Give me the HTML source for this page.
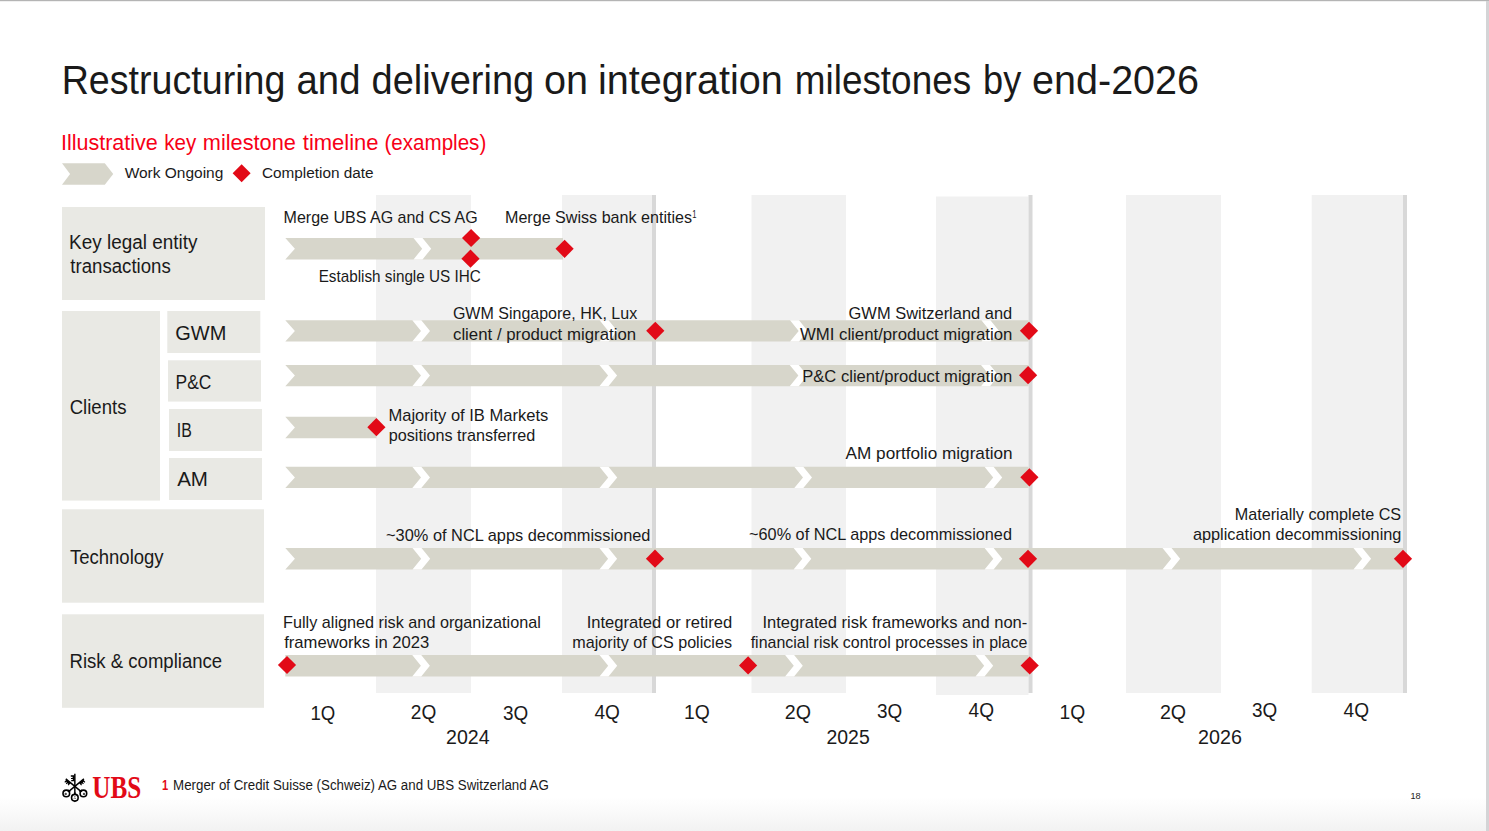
<!DOCTYPE html>
<html><head><meta charset="utf-8"><title>UBS integration milestones</title>
<style>
html,body{margin:0;padding:0;background:#fff;}
body{width:1489px;height:831px;overflow:hidden;}
svg{display:block;}
</style></head>
<body>
<svg width="1489" height="831" viewBox="0 0 1489 831">
<defs><linearGradient id="bg" x1="0" y1="0" x2="0" y2="1"><stop offset="0" stop-color="#ffffff"/><stop offset="0.5" stop-color="#f9f9f9"/><stop offset="1" stop-color="#f2f2f2"/></linearGradient></defs>
<rect x="0" y="0" width="1489" height="831" fill="#ffffff"/>
<rect x="0" y="797" width="1489" height="34" fill="url(#bg)"/>
<rect x="0" y="0" width="1489" height="1.2" fill="#b4b4b4"/>
<rect x="1486" y="1" width="3" height="831" fill="#d4d4d6"/>
<text x="61.71" y="94.10" font-size="40.5" fill="#1a1a1a" font-weight="normal" style="font-family:&quot;Liberation Sans&quot;,sans-serif" textLength="223.71" lengthAdjust="spacingAndGlyphs">Restructuring</text>
<text x="296.57" y="94.10" font-size="40.5" fill="#1a1a1a" font-weight="normal" style="font-family:&quot;Liberation Sans&quot;,sans-serif" textLength="63.89" lengthAdjust="spacingAndGlyphs">and</text>
<text x="371.61" y="94.10" font-size="40.5" fill="#1a1a1a" font-weight="normal" style="font-family:&quot;Liberation Sans&quot;,sans-serif" textLength="162.54" lengthAdjust="spacingAndGlyphs">delivering</text>
<text x="544.04" y="94.10" font-size="40.5" fill="#1a1a1a" font-weight="normal" style="font-family:&quot;Liberation Sans&quot;,sans-serif" textLength="44.03" lengthAdjust="spacingAndGlyphs">on</text>
<text x="598.05" y="94.10" font-size="40.5" fill="#1a1a1a" font-weight="normal" style="font-family:&quot;Liberation Sans&quot;,sans-serif" textLength="184.82" lengthAdjust="spacingAndGlyphs">integration</text>
<text x="794.75" y="94.10" font-size="40.5" fill="#1a1a1a" font-weight="normal" style="font-family:&quot;Liberation Sans&quot;,sans-serif" textLength="176.38" lengthAdjust="spacingAndGlyphs">milestones</text>
<text x="983.07" y="94.10" font-size="40.5" fill="#1a1a1a" font-weight="normal" style="font-family:&quot;Liberation Sans&quot;,sans-serif" textLength="38.20" lengthAdjust="spacingAndGlyphs">by</text>
<text x="1032.12" y="94.10" font-size="40.5" fill="#1a1a1a" font-weight="normal" style="font-family:&quot;Liberation Sans&quot;,sans-serif" textLength="166.91" lengthAdjust="spacingAndGlyphs">end-2026</text>
<text x="60.91" y="150.00" font-size="22.3" fill="#f70016" font-weight="normal" style="font-family:&quot;Liberation Sans&quot;,sans-serif" textLength="96.84" lengthAdjust="spacingAndGlyphs">Illustrative</text>
<text x="164.22" y="150.00" font-size="22.3" fill="#f70016" font-weight="normal" style="font-family:&quot;Liberation Sans&quot;,sans-serif" textLength="31.92" lengthAdjust="spacingAndGlyphs">key</text>
<text x="202.86" y="150.00" font-size="22.3" fill="#f70016" font-weight="normal" style="font-family:&quot;Liberation Sans&quot;,sans-serif" textLength="93.01" lengthAdjust="spacingAndGlyphs">milestone</text>
<text x="302.77" y="150.00" font-size="22.3" fill="#f70016" font-weight="normal" style="font-family:&quot;Liberation Sans&quot;,sans-serif" textLength="75.81" lengthAdjust="spacingAndGlyphs">timeline</text>
<text x="384.52" y="150.00" font-size="22.3" fill="#f70016" font-weight="normal" style="font-family:&quot;Liberation Sans&quot;,sans-serif" textLength="101.75" lengthAdjust="spacingAndGlyphs">(examples)</text>
<polygon points="62.00,163.20 104.80,163.20 113.20,173.95 104.80,184.70 62.00,184.70 70.10,173.95" fill="#d7d6cb"/>
<text x="124.63" y="177.90" font-size="15.5" fill="#1a1a1a" font-weight="normal" style="font-family:&quot;Liberation Sans&quot;,sans-serif" textLength="98.67" lengthAdjust="spacingAndGlyphs">Work Ongoing</text>
<polygon points="241.60,164.20 250.60,173.20 241.60,182.20 232.60,173.20" fill="#e20a17"/>
<text x="261.92" y="177.90" font-size="15.5" fill="#1a1a1a" font-weight="normal" style="font-family:&quot;Liberation Sans&quot;,sans-serif" textLength="111.66" lengthAdjust="spacingAndGlyphs">Completion date</text>
<rect x="376" y="195" width="95" height="498" fill="#f1f1f1"/>
<rect x="562" y="195" width="90" height="498" fill="#f1f1f1"/>
<rect x="751.5" y="195" width="94.5" height="498" fill="#f1f1f1"/>
<rect x="1126" y="195" width="95" height="498" fill="#f1f1f1"/>
<rect x="1311.7" y="195" width="91.29999999999995" height="498" fill="#f1f1f1"/>
<rect x="936" y="196.5" width="92.5" height="498.5" fill="#f1f1f1"/>
<rect x="652" y="195" width="4" height="498" fill="#d8d8d8"/>
<rect x="1028.5" y="195" width="4" height="498" fill="#d8d8d8"/>
<rect x="1403" y="195" width="4" height="498" fill="#d8d8d8"/>
<rect x="62" y="207" width="203" height="93" fill="#e9e9e4"/>
<rect x="62" y="311" width="98" height="189.6" fill="#e9e9e4"/>
<rect x="167.3" y="311" width="93" height="42" fill="#e9e9e4"/>
<rect x="168" y="360.3" width="93" height="41.3" fill="#e9e9e4"/>
<rect x="169" y="409" width="93" height="42" fill="#e9e9e4"/>
<rect x="169" y="458" width="93" height="42" fill="#e9e9e4"/>
<rect x="62" y="509.3" width="202" height="93.4" fill="#e9e9e4"/>
<rect x="62" y="614.3" width="202" height="93.5" fill="#e9e9e4"/>
<text x="69.05" y="248.90" font-size="20" fill="#1a1a1a" font-weight="normal" style="font-family:&quot;Liberation Sans&quot;,sans-serif" textLength="128.39" lengthAdjust="spacingAndGlyphs">Key legal entity</text>
<text x="70.32" y="272.80" font-size="20" fill="#1a1a1a" font-weight="normal" style="font-family:&quot;Liberation Sans&quot;,sans-serif" textLength="100.46" lengthAdjust="spacingAndGlyphs">transactions</text>
<text x="175.30" y="340.20" font-size="20" fill="#1a1a1a" font-weight="normal" style="font-family:&quot;Liberation Sans&quot;,sans-serif" textLength="51.04" lengthAdjust="spacingAndGlyphs">GWM</text>
<text x="175.57" y="389.20" font-size="20" fill="#1a1a1a" font-weight="normal" style="font-family:&quot;Liberation Sans&quot;,sans-serif" textLength="35.79" lengthAdjust="spacingAndGlyphs">P&amp;C</text>
<text x="176.84" y="437.10" font-size="20" fill="#1a1a1a" font-weight="normal" style="font-family:&quot;Liberation Sans&quot;,sans-serif" textLength="15.00" lengthAdjust="spacingAndGlyphs">IB</text>
<text x="177.16" y="486.10" font-size="20" fill="#1a1a1a" font-weight="normal" style="font-family:&quot;Liberation Sans&quot;,sans-serif" textLength="30.83" lengthAdjust="spacingAndGlyphs">AM</text>
<text x="69.66" y="414.30" font-size="20" fill="#1a1a1a" font-weight="normal" style="font-family:&quot;Liberation Sans&quot;,sans-serif" textLength="56.82" lengthAdjust="spacingAndGlyphs">Clients</text>
<text x="69.88" y="564.00" font-size="20" fill="#1a1a1a" font-weight="normal" style="font-family:&quot;Liberation Sans&quot;,sans-serif" textLength="93.75" lengthAdjust="spacingAndGlyphs">Technology</text>
<text x="69.58" y="668.10" font-size="20" fill="#1a1a1a" font-weight="normal" style="font-family:&quot;Liberation Sans&quot;,sans-serif" textLength="152.55" lengthAdjust="spacingAndGlyphs">Risk &amp; compliance</text>
<polygon points="285.30,238.00 563.00,238.00 563.00,259.40 285.30,259.40 294.90,248.70" fill="#d7d6cb"/>
<polygon points="413.50,238.00 422.50,238.00 431.20,248.70 422.50,259.40 413.50,259.40 422.20,248.70" fill="#ffffff"/>
<polygon points="285.30,320.20 1028.50,320.20 1028.50,341.60 285.30,341.60 294.90,330.90" fill="#d7d6cb"/>
<polygon points="412.30,320.20 421.30,320.20 430.00,330.90 421.30,341.60 412.30,341.60 421.00,330.90" fill="#ffffff"/>
<polygon points="599.60,320.20 608.60,320.20 617.30,330.90 608.60,341.60 599.60,341.60 608.30,330.90" fill="#ffffff"/>
<polygon points="790.00,320.20 799.00,320.20 807.70,330.90 799.00,341.60 790.00,341.60 798.70,330.90" fill="#ffffff"/>
<polygon points="981.40,320.20 990.40,320.20 999.10,330.90 990.40,341.60 981.40,341.60 990.10,330.90" fill="#ffffff"/>
<polygon points="285.30,364.90 1028.50,364.90 1028.50,386.30 285.30,386.30 294.90,375.60" fill="#d7d6cb"/>
<polygon points="412.30,364.90 421.30,364.90 430.00,375.60 421.30,386.30 412.30,386.30 421.00,375.60" fill="#ffffff"/>
<polygon points="599.40,364.90 608.40,364.90 617.10,375.60 608.40,386.30 599.40,386.30 608.10,375.60" fill="#ffffff"/>
<polygon points="789.70,364.90 798.70,364.90 807.40,375.60 798.70,386.30 789.70,386.30 798.40,375.60" fill="#ffffff"/>
<polygon points="981.00,364.90 990.00,364.90 998.70,375.60 990.00,386.30 981.00,386.30 989.70,375.60" fill="#ffffff"/>
<polygon points="285.30,416.80 376.40,416.80 376.40,438.20 285.30,438.20 294.90,427.50" fill="#d7d6cb"/>
<polygon points="285.30,466.70 1028.50,466.70 1028.50,488.10 285.30,488.10 294.90,477.40" fill="#d7d6cb"/>
<polygon points="412.30,466.70 421.30,466.70 430.00,477.40 421.30,488.10 412.30,488.10 421.00,477.40" fill="#ffffff"/>
<polygon points="599.50,466.70 608.50,466.70 617.20,477.40 608.50,488.10 599.50,488.10 608.20,477.40" fill="#ffffff"/>
<polygon points="794.30,466.70 803.30,466.70 812.00,477.40 803.30,488.10 794.30,488.10 803.00,477.40" fill="#ffffff"/>
<polygon points="984.50,466.70 993.50,466.70 1002.20,477.40 993.50,488.10 984.50,488.10 993.20,477.40" fill="#ffffff"/>
<polygon points="285.30,548.10 1403.00,548.10 1403.00,569.50 285.30,569.50 294.90,558.80" fill="#d7d6cb"/>
<polygon points="412.50,548.10 421.50,548.10 430.20,558.80 421.50,569.50 412.50,569.50 421.20,558.80" fill="#ffffff"/>
<polygon points="599.40,548.10 608.40,548.10 617.10,558.80 608.40,569.50 599.40,569.50 608.10,558.80" fill="#ffffff"/>
<polygon points="793.60,548.10 802.60,548.10 811.30,558.80 802.60,569.50 793.60,569.50 802.30,558.80" fill="#ffffff"/>
<polygon points="984.60,548.10 993.60,548.10 1002.30,558.80 993.60,569.50 984.60,569.50 993.30,558.80" fill="#ffffff"/>
<polygon points="1162.50,548.10 1171.50,548.10 1180.20,558.80 1171.50,569.50 1162.50,569.50 1171.20,558.80" fill="#ffffff"/>
<polygon points="1353.40,548.10 1362.40,548.10 1371.10,558.80 1362.40,569.50 1353.40,569.50 1362.10,558.80" fill="#ffffff"/>
<polygon points="285.30,655.00 1028.60,655.00 1028.60,676.40 285.30,676.40" fill="#d7d6cb"/>
<polygon points="412.20,655.00 421.20,655.00 429.90,665.70 421.20,676.40 412.20,676.40 420.90,665.70" fill="#ffffff"/>
<polygon points="599.50,655.00 608.50,655.00 617.20,665.70 608.50,676.40 599.50,676.40 608.20,665.70" fill="#ffffff"/>
<polygon points="785.10,655.00 794.10,655.00 802.80,665.70 794.10,676.40 785.10,676.40 793.80,665.70" fill="#ffffff"/>
<polygon points="975.50,655.00 984.50,655.00 993.20,665.70 984.50,676.40 975.50,676.40 984.20,665.70" fill="#ffffff"/>
<polygon points="471.10,228.90 480.20,238.00 471.10,247.10 462.00,238.00" fill="#e20a17"/>
<polygon points="470.50,249.60 479.60,258.70 470.50,267.80 461.40,258.70" fill="#e20a17"/>
<polygon points="564.60,239.70 573.70,248.80 564.60,257.90 555.50,248.80" fill="#e20a17"/>
<polygon points="655.30,321.70 664.40,330.80 655.30,339.90 646.20,330.80" fill="#e20a17"/>
<polygon points="1029.00,321.70 1038.10,330.80 1029.00,339.90 1019.90,330.80" fill="#e20a17"/>
<polygon points="1028.10,366.10 1037.20,375.20 1028.10,384.30 1019.00,375.20" fill="#e20a17"/>
<polygon points="376.40,418.10 385.50,427.20 376.40,436.30 367.30,427.20" fill="#e20a17"/>
<polygon points="1029.40,468.20 1038.50,477.30 1029.40,486.40 1020.30,477.30" fill="#e20a17"/>
<polygon points="655.00,549.60 664.10,558.70 655.00,567.80 645.90,558.70" fill="#e20a17"/>
<polygon points="1028.00,549.70 1037.10,558.80 1028.00,567.90 1018.90,558.80" fill="#e20a17"/>
<polygon points="1403.00,549.70 1412.10,558.80 1403.00,567.90 1393.90,558.80" fill="#e20a17"/>
<polygon points="287.00,655.90 296.10,665.00 287.00,674.10 277.90,665.00" fill="#e20a17"/>
<polygon points="748.10,656.30 757.20,665.40 748.10,674.50 739.00,665.40" fill="#e20a17"/>
<polygon points="1029.70,656.40 1038.80,665.50 1029.70,674.60 1020.60,665.50" fill="#e20a17"/>
<text x="283.59" y="223.00" font-size="17" fill="#1a1a1a" font-weight="normal" style="font-family:&quot;Liberation Sans&quot;,sans-serif" textLength="194.11" lengthAdjust="spacingAndGlyphs">Merge UBS AG and CS AG</text>
<text x="504.98" y="222.80" font-size="17" fill="#1a1a1a" font-weight="normal" style="font-family:&quot;Liberation Sans&quot;,sans-serif" textLength="187.10" lengthAdjust="spacingAndGlyphs">Merge Swiss bank entities</text>
<text x="692.32" y="217.90" font-size="11.3" fill="#1a1a1a" font-weight="normal" style="font-family:&quot;Liberation Sans&quot;,sans-serif" textLength="4.25" lengthAdjust="spacingAndGlyphs">1</text>
<text x="318.65" y="281.90" font-size="17" fill="#1a1a1a" font-weight="normal" style="font-family:&quot;Liberation Sans&quot;,sans-serif" textLength="162.13" lengthAdjust="spacingAndGlyphs">Establish single US IHC</text>
<text x="452.89" y="318.90" font-size="17" fill="#1a1a1a" font-weight="normal" style="font-family:&quot;Liberation Sans&quot;,sans-serif" textLength="184.28" lengthAdjust="spacingAndGlyphs">GWM Singapore, HK, Lux</text>
<text x="452.99" y="340.20" font-size="17" fill="#1a1a1a" font-weight="normal" style="font-family:&quot;Liberation Sans&quot;,sans-serif" textLength="183.11" lengthAdjust="spacingAndGlyphs">client / product migration</text>
<text x="848.57" y="318.60" font-size="17" fill="#1a1a1a" font-weight="normal" style="font-family:&quot;Liberation Sans&quot;,sans-serif" textLength="163.69" lengthAdjust="spacingAndGlyphs">GWM Switzerland and</text>
<text x="799.93" y="340.00" font-size="17" fill="#1a1a1a" font-weight="normal" style="font-family:&quot;Liberation Sans&quot;,sans-serif" textLength="212.36" lengthAdjust="spacingAndGlyphs">WMI client/product migration</text>
<text x="802.24" y="382.00" font-size="17" fill="#1a1a1a" font-weight="normal" style="font-family:&quot;Liberation Sans&quot;,sans-serif" textLength="210.04" lengthAdjust="spacingAndGlyphs">P&amp;C client/product migration</text>
<text x="388.44" y="420.70" font-size="17" fill="#1a1a1a" font-weight="normal" style="font-family:&quot;Liberation Sans&quot;,sans-serif" textLength="159.85" lengthAdjust="spacingAndGlyphs">Majority of IB Markets</text>
<text x="388.76" y="440.60" font-size="17" fill="#1a1a1a" font-weight="normal" style="font-family:&quot;Liberation Sans&quot;,sans-serif" textLength="146.59" lengthAdjust="spacingAndGlyphs">positions transferred</text>
<text x="845.57" y="459.20" font-size="17" fill="#1a1a1a" font-weight="normal" style="font-family:&quot;Liberation Sans&quot;,sans-serif" textLength="167.05" lengthAdjust="spacingAndGlyphs">AM portfolio migration</text>
<text x="386.07" y="541.00" font-size="17" fill="#1a1a1a" font-weight="normal" style="font-family:&quot;Liberation Sans&quot;,sans-serif" textLength="264.39" lengthAdjust="spacingAndGlyphs">~30% of NCL apps decommissioned</text>
<text x="749.07" y="539.50" font-size="17" fill="#1a1a1a" font-weight="normal" style="font-family:&quot;Liberation Sans&quot;,sans-serif" textLength="262.88" lengthAdjust="spacingAndGlyphs">~60% of NCL apps decommissioned</text>
<text x="1234.67" y="519.80" font-size="17" fill="#1a1a1a" font-weight="normal" style="font-family:&quot;Liberation Sans&quot;,sans-serif" textLength="166.47" lengthAdjust="spacingAndGlyphs">Materially complete CS</text>
<text x="1192.91" y="539.70" font-size="17" fill="#1a1a1a" font-weight="normal" style="font-family:&quot;Liberation Sans&quot;,sans-serif" textLength="208.54" lengthAdjust="spacingAndGlyphs">application decommissioning</text>
<text x="283.07" y="628.00" font-size="17" fill="#1a1a1a" font-weight="normal" style="font-family:&quot;Liberation Sans&quot;,sans-serif" textLength="257.82" lengthAdjust="spacingAndGlyphs">Fully aligned risk and organizational</text>
<text x="284.16" y="647.90" font-size="17" fill="#1a1a1a" font-weight="normal" style="font-family:&quot;Liberation Sans&quot;,sans-serif" textLength="145.07" lengthAdjust="spacingAndGlyphs">frameworks in 2023</text>
<text x="586.67" y="627.90" font-size="17" fill="#1a1a1a" font-weight="normal" style="font-family:&quot;Liberation Sans&quot;,sans-serif" textLength="145.60" lengthAdjust="spacingAndGlyphs">Integrated or retired</text>
<text x="572.33" y="647.60" font-size="17" fill="#1a1a1a" font-weight="normal" style="font-family:&quot;Liberation Sans&quot;,sans-serif" textLength="159.65" lengthAdjust="spacingAndGlyphs">majority of CS policies</text>
<text x="762.47" y="628.00" font-size="17" fill="#1a1a1a" font-weight="normal" style="font-family:&quot;Liberation Sans&quot;,sans-serif" textLength="264.86" lengthAdjust="spacingAndGlyphs">Integrated risk frameworks and non-</text>
<text x="750.67" y="647.80" font-size="17" fill="#1a1a1a" font-weight="normal" style="font-family:&quot;Liberation Sans&quot;,sans-serif" textLength="276.63" lengthAdjust="spacingAndGlyphs">financial risk control processes in place</text>
<text x="310.38" y="719.80" font-size="20" fill="#1a1a1a" font-weight="normal" style="font-family:&quot;Liberation Sans&quot;,sans-serif" textLength="24.81" lengthAdjust="spacingAndGlyphs">1Q</text>
<text x="410.84" y="719.20" font-size="20" fill="#1a1a1a" font-weight="normal" style="font-family:&quot;Liberation Sans&quot;,sans-serif" textLength="25.47" lengthAdjust="spacingAndGlyphs">2Q</text>
<text x="502.88" y="719.50" font-size="20" fill="#1a1a1a" font-weight="normal" style="font-family:&quot;Liberation Sans&quot;,sans-serif" textLength="25.22" lengthAdjust="spacingAndGlyphs">3Q</text>
<text x="594.46" y="719.00" font-size="20" fill="#1a1a1a" font-weight="normal" style="font-family:&quot;Liberation Sans&quot;,sans-serif" textLength="25.45" lengthAdjust="spacingAndGlyphs">4Q</text>
<text x="684.03" y="719.00" font-size="20" fill="#1a1a1a" font-weight="normal" style="font-family:&quot;Liberation Sans&quot;,sans-serif" textLength="25.80" lengthAdjust="spacingAndGlyphs">1Q</text>
<text x="784.71" y="719.00" font-size="20" fill="#1a1a1a" font-weight="normal" style="font-family:&quot;Liberation Sans&quot;,sans-serif" textLength="26.23" lengthAdjust="spacingAndGlyphs">2Q</text>
<text x="876.88" y="718.20" font-size="20" fill="#1a1a1a" font-weight="normal" style="font-family:&quot;Liberation Sans&quot;,sans-serif" textLength="25.22" lengthAdjust="spacingAndGlyphs">3Q</text>
<text x="968.56" y="717.00" font-size="20" fill="#1a1a1a" font-weight="normal" style="font-family:&quot;Liberation Sans&quot;,sans-serif" textLength="25.45" lengthAdjust="spacingAndGlyphs">4Q</text>
<text x="1059.53" y="719.00" font-size="20" fill="#1a1a1a" font-weight="normal" style="font-family:&quot;Liberation Sans&quot;,sans-serif" textLength="25.69" lengthAdjust="spacingAndGlyphs">1Q</text>
<text x="1159.91" y="719.00" font-size="20" fill="#1a1a1a" font-weight="normal" style="font-family:&quot;Liberation Sans&quot;,sans-serif" textLength="26.23" lengthAdjust="spacingAndGlyphs">2Q</text>
<text x="1252.08" y="717.40" font-size="20" fill="#1a1a1a" font-weight="normal" style="font-family:&quot;Liberation Sans&quot;,sans-serif" textLength="25.22" lengthAdjust="spacingAndGlyphs">3Q</text>
<text x="1343.56" y="717.00" font-size="20" fill="#1a1a1a" font-weight="normal" style="font-family:&quot;Liberation Sans&quot;,sans-serif" textLength="25.45" lengthAdjust="spacingAndGlyphs">4Q</text>
<text x="446.02" y="743.90" font-size="20" fill="#1a1a1a" font-weight="normal" style="font-family:&quot;Liberation Sans&quot;,sans-serif" textLength="43.56" lengthAdjust="spacingAndGlyphs">2024</text>
<text x="826.52" y="743.90" font-size="20" fill="#1a1a1a" font-weight="normal" style="font-family:&quot;Liberation Sans&quot;,sans-serif" textLength="43.19" lengthAdjust="spacingAndGlyphs">2025</text>
<text x="1198.11" y="743.90" font-size="20" fill="#1a1a1a" font-weight="normal" style="font-family:&quot;Liberation Sans&quot;,sans-serif" textLength="43.86" lengthAdjust="spacingAndGlyphs">2026</text>
<text x="161.90" y="789.80" font-size="14" fill="#e20a17" font-weight="bold" style="font-family:&quot;Liberation Sans&quot;,sans-serif" textLength="6.21" lengthAdjust="spacingAndGlyphs">1</text>
<text x="173.11" y="789.80" font-size="14" fill="#1a1a1a" font-weight="normal" style="font-family:&quot;Liberation Sans&quot;,sans-serif" textLength="375.69" lengthAdjust="spacingAndGlyphs">Merger of Credit Suisse (Schweiz) AG and UBS Switzerland AG</text>
<g transform="translate(92.3,797.7) scale(1,1.25)"><text x="0" y="0" font-size="25" font-weight="bold" style="font-family:&quot;Liberation Serif&quot;,serif" fill="#e20a17" textLength="48.9" lengthAdjust="spacingAndGlyphs">UBS</text></g>
<text x="1410.50" y="799.00" font-size="9.8" fill="#222222" font-weight="normal" style="font-family:&quot;Liberation Sans&quot;,sans-serif" textLength="10.20" lengthAdjust="spacingAndGlyphs">18</text>
<g fill="#000" stroke="none">
<line x1="74.85" y1="773.8" x2="74.85" y2="794.5" stroke="#000" stroke-width="1.45"/>
<line x1="65.8" y1="778.9" x2="81.2" y2="791.6" stroke="#000" stroke-width="1.45"/>
<line x1="83.9" y1="778.9" x2="68.5" y2="791.6" stroke="#000" stroke-width="1.45"/>
<path d="M70.8 775.3 H74.6 V781.2 H71.2 V780.1 H72.8 V779.1 H71.0 V777.9 H72.6 V776.7 H70.8 Z"/>
<g transform="translate(65.8,778.9) rotate(39.6)">
<path d="M0.8 0 H6.4 V3.4 H5.2 V2.2 H4.2 V3.6 H3.0 V2.0 H2.0 V3.2 H0.8 Z"/>
</g>
<g transform="translate(83.9,778.9) rotate(140.4)">
<path d="M0.8 0 H6.4 V-3.4 H5.2 V-2.2 H4.2 V-3.6 H3.0 V-2.0 H2.0 V-3.2 H0.8 Z"/>
</g>
<circle cx="66.3" cy="793.4" r="3.3" fill="none" stroke="#000" stroke-width="1.6"/>
<circle cx="83.4" cy="793.4" r="3.3" fill="none" stroke="#000" stroke-width="1.6"/>
<circle cx="74.85" cy="797.7" r="3.3" fill="none" stroke="#000" stroke-width="1.6"/>
<path d="M68.2 789.6 L70.6 791.2 L69.3 792.6 L67.2 791.0 Z"/>
<path d="M81.5 789.6 L79.1 791.2 L80.4 792.6 L82.5 791.0 Z"/>
<path d="M73.9 792.6 H75.8 L75.6 794.6 H74.1 Z"/>
<path d="M73.6 801.0 L76.1 801.0 L74.85 802.3 Z"/>
<circle cx="65.7" cy="793.9" r="1.2" opacity="0.7"/>
<circle cx="84.0" cy="793.9" r="1.2" opacity="0.7"/>
<path d="M73.6 798.6 Q74.85 797.6 76.1 798.6" fill="none" stroke="#000" stroke-width="0.8" opacity="0.7"/>
<circle cx="74.85" cy="796.6" r="0.7" opacity="0.6"/>
</g>
</svg>
</body></html>
